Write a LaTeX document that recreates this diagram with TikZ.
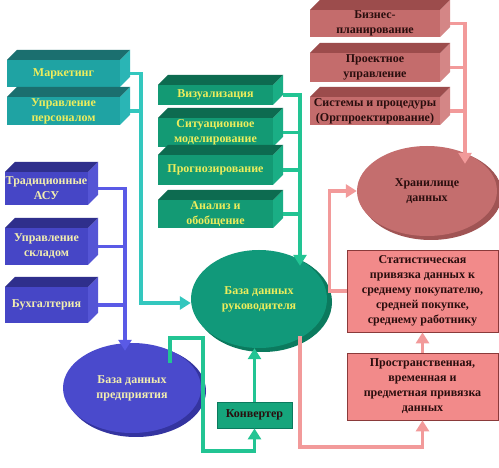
\documentclass[tikz,border=0pt]{standalone}
\usepackage{fontspec}
\setmainfont{Liberation Serif}
\usetikzlibrary{shapes.geometric,arrows.meta,calc}
\definecolor{tealF}{HTML}{1FA3A3}
\definecolor{tealT}{HTML}{1B6F6F}
\definecolor{tealS}{HTML}{2AB5B5}
\definecolor{greenF}{HTML}{139A74}
\definecolor{greenT}{HTML}{0D6B50}
\definecolor{greenS}{HTML}{1AAE85}
\definecolor{blueF}{HTML}{4646C6}
\definecolor{blueT}{HTML}{2F2F8C}
\definecolor{blueS}{HTML}{5555D5}
\definecolor{pinkF}{HTML}{C46C6C}
\definecolor{pinkT}{HTML}{9C4C4C}
\definecolor{pinkS}{HTML}{D48686}
\definecolor{tealL}{HTML}{33C7BE}
\definecolor{greenL}{HTML}{22C493}
\definecolor{blueL}{HTML}{5A5AE6}
\definecolor{pinkL}{HTML}{F29A9A}
\definecolor{textY}{HTML}{EDED5C}
\definecolor{textPY}{HTML}{F2EEB0}
\definecolor{textD}{HTML}{2A0E0E}
\definecolor{statF}{HTML}{F28A8A}
\definecolor{statD}{HTML}{8A3A3A}
\definecolor{konvF}{HTML}{16A57C}
\definecolor{bdpF}{HTML}{4A4ACC}
\definecolor{bdpD}{HTML}{3434A0}
\definecolor{bdrF}{HTML}{11997A}
\definecolor{bdrD}{HTML}{0B7A5E}
\definecolor{hranF}{HTML}{C46E6E}
\definecolor{hranD}{HTML}{A05454}
% 3D box: #1 name, #2 x1, #3 y1, #4 x2, #5 y2, #6 colour family, #7 text
\newcommand\tdbox[7]{%
  \fill[#6side] (#4,#3) -- (#4+10,#3-10) -- (#4+10,#5-10) -- (#4,#5) -- cycle;
  \fill[#6top] (#2,#3) -- (#2+10,#3-10) -- (#4+10,#3-10) -- (#4,#3) -- cycle;
  \node[#6front, minimum width={#4pt-#2pt}, minimum height={#5pt-#3pt}]
    (#1) at ({(#2+#4)/2},{(#3+#5)/2}) {#7};
}
\begin{document}
\begin{tikzpicture}[x=1pt,y=-1pt,
  lbl/.style={font=\fontsize{12}{15}\selectfont\bfseries, align=center, inner sep=0pt},
  tealfront/.style={lbl, fill=tealF, text=textY},
  tealtop/.style={fill=tealT}, tealside/.style={fill=tealS},
  greenfront/.style={lbl, fill=greenF, text=textY},
  greentop/.style={fill=greenT}, greenside/.style={fill=greenS},
  bluefront/.style={lbl, fill=blueF, text=textPY},
  bluetop/.style={fill=blueT}, blueside/.style={fill=blueS},
  pinkfront/.style={lbl, fill=pinkF, text=textD},
  pinktop/.style={fill=pinkT}, pinkside/.style={fill=pinkS},
  oval/.style={lbl, ellipse, inner sep=0pt},
  flatbox/.style={lbl, draw=statD, line width=0.8pt, fill=statF, text=textD},
  conn/.style={line width=3.5pt},
  arr/.style={conn, -{Triangle[width=13pt,length=11pt]}},
]
\useasboundingbox (0,0) rectangle (499,468);
\fill[white] (0,0) rectangle (499,468);

% ellipses
\fill[bdpD] (136,391) ellipse [x radius=70, y radius=46];
\node[oval, fill=bdpF, text=textPY, minimum width=138pt, minimum height=90pt] (bdp) at (132,388) {База данных\\предприятия};
\fill[bdrD] (263,302) ellipse [x radius=69, y radius=50];
\node[oval, fill=bdrF, text=textY, minimum width=136pt, minimum height=98pt] (bdr) at (259,299) {База данных\\руководителя};
\fill[hranD] (431,194) ellipse [x radius=71, y radius=46];
\node[oval, fill=hranF, text=textD, minimum width=140pt, minimum height=90pt] (hran) at (427,191) {Хранилище\\данных};

% 3D boxes
\tdbox{mark}{7}{60}{120}{87}{teal}{Маркетинг}
\tdbox{uprp}{7}{97}{120}{125}{teal}{Управление\\персоналом}

\tdbox{viz}{158}{85}{273}{105}{green}{Визуализация}
\tdbox{sit}{158}{118}{273}{147}{green}{Ситуационное\\моделирование}
\tdbox{prog}{158}{155}{273}{185}{green}{Прогнозирование}
\tdbox{anal}{158}{200}{273}{228}{green}{Анализ и\\обобщение}

\tdbox{biz}{310}{10}{440}{37}{pink}{Бизнес-\\планирование}
\tdbox{proj}{310}{53}{440}{82}{pink}{Проектное\\управление}
\tdbox{sys}{310}{97}{440}{125}{pink}{Системы и процедуры\\(Оргпроектирование)}

\tdbox{trad}{5}{172}{88}{205}{blue}{Традиционные\\АСУ}
\tdbox{skl}{5}{228}{88}{265}{blue}{Управление\\складом}
\tdbox{bukh}{5}{287}{88}{323}{blue}{Бухгалтерия}

% flat boxes
\node[flatbox, minimum width=151pt, minimum height=82pt] (stat) at (422.5,291) {Статистическая\\привязка данных к\\среднему покупателю,\\средней покупке,\\среднему работнику};
\node[flatbox, minimum width=151pt, minimum height=67pt] (prost) at (422.5,386.5) {Пространственная,\\временная и\\предметная привязка\\данных};
\node[lbl, draw=bdrD, line width=0.8pt, fill=konvF, text=textD, minimum width=75pt, minimum height=26pt] (konv) at (254.5,415) {Конвертер};

% connectors: teal
\draw[arr, tealL] ($(mark.east)+(10,0)$) -| ([xshift=-50pt, yshift=-4pt]bdr.west) -- ([yshift=-4pt]bdr.west);
\draw[conn, tealL] ($(uprp.east)+(10,0)$) -- ++(10,0);
% green
\draw[arr, greenL] ($(viz.east)+(10,0)$) -| ($(bdr.north)+(41,16)$);
\draw[conn, greenL] ($(sit.east)+(10,0)$) -- ++(17,0);
\draw[conn, greenL] ($(prog.east)+(10,0)$) -- ++(17,0);
\draw[conn, greenL] ($(anal.east)+(10,0)$) -- ++(17,0);
% blue
\draw[arr, blueL] ($(trad.east)+(10,0)$) -| ($(bdp.north)+(-7,8)$);
\draw[conn, blueL] ($(skl.east)+(10,0)$) -- ++(27,0);
\draw[conn, blueL] ($(bukh.east)+(10,0)$) -- ++(27,0);
% pink to storage
\draw[arr, pinkL] ($(biz.east)+(10,0)$) -| ($(hran.north)+(38,18)$);
\draw[conn, pinkL] ($(proj.east)+(10,0)$) -- ++(15,0);
\draw[conn, pinkL] ($(sys.east)+(10,0)$) -- ++(15,0);
% enterprise db -> converter -> manager db
\draw[arr, greenL] ($(bdp.north)+(38,20)$) -- ++(0,-25) -- ++(33,0) -- ++(0,113) -| (konv.south);
\draw[arr, greenL] (konv.north) -- (konv.north |- bdr.south);
% manager db -> spatial -> statistical -> storage
\draw[arr, pinkL] ($(bdr.south)+(41,-12)$) -- ++(0,111) -| (prost.south);
\draw[arr, pinkL] (prost.north) -- (stat.south);
\draw[arr, pinkL] (stat.west) -- ++(-17,0) |- (hran.west);
\end{tikzpicture}
\end{document}
